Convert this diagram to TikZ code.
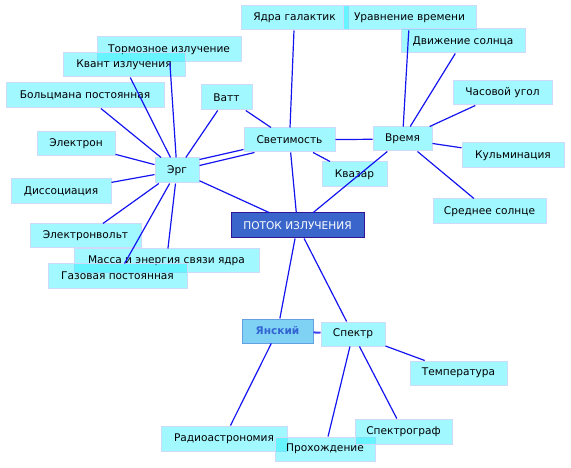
\documentclass[tikz,border=0pt]{standalone}
\usepackage{fontspec}
\setmainfont{DejaVu Sans}
\definecolor{boxfill}{RGB}{0,236,255}
\definecolor{boxline}{RGB}{205,218,250}
\definecolor{edgeblue}{RGB}{20,20,240}
\definecolor{potokfill}{RGB}{58,102,204}
\definecolor{potokline}{RGB}{50,20,150}
\definecolor{janfill}{RGB}{128,210,245}
\definecolor{janline}{RGB}{100,160,225}
\definecolor{jantext}{RGB}{50,100,210}
\definecolor{janedge}{RGB}{60,60,240}
\tikzset{
  box/.style={draw=boxline, line width=1pt, fill=boxfill, fill opacity=0.37, text opacity=1,
    inner sep=0pt, minimum height=24pt, font=\fontsize{10.6}{12}\selectfont, text=black},
  potokbox/.style={draw=potokline, line width=1pt, fill=potokfill, inner sep=0pt,
    minimum height=25pt, font=\fontsize{10.6}{12}\selectfont, text=white},
  janbox/.style={draw=janline, line width=1pt, fill=janfill, inner sep=0pt,
    minimum height=24pt, font=\fontsize{10.6}{12}\selectfont\bfseries, text=jantext},
  link/.style={draw=edgeblue, line width=1.2pt},
}
\begin{document}
\begin{tikzpicture}[x=1pt,y=-1pt]
\useasboundingbox (0,0) rectangle (571,468);
% nodes
\node[box, minimum width=107pt] (yadra) at (294.5,18) {Ядра галактик};
\node[box, minimum width=133pt] (uravn) at (409.5,18) {Уравнение времени};
\node[box, minimum width=124pt] (dvizh) at (463,41) {Движение солнца};
\node[box, minimum width=99pt] (chas) at (502.5,93) {Часовой угол};
\node[box, minimum width=102pt, minimum height=25pt] (kulm) at (513,155.5) {Кульминация};
\node[box, minimum width=113pt, minimum height=25pt] (sredn) at (489.5,211.5) {Среднее солнце};
\node[box, minimum width=59pt] (vremya) at (402.5,139) {Время};
\node[box, minimum width=65pt, minimum height=25pt] (kvazar) at (354.5,174.5) {Квазар};
\node[box, minimum width=91pt] (svet) at (289.5,140) {Светимость};
\node[potokbox, minimum width=133pt] (potok) at (297.5,225.5) {ПОТОК ИЗЛУЧЕНИЯ};
\node[box, minimum width=144pt, minimum height=25pt] (tormoz) at (169,49.5) {Тормозное излучение};
\node[box, minimum width=122pt] (kvant) at (124,65) {Квант излучения};
\node[box, minimum width=158pt, minimum height=25pt] (bolc) at (85,95.5) {Больцмана постоянная};
\node[box, minimum width=51pt, minimum height=25pt] (vatt) at (226.5,97.5) {Ватт};
\node[box, minimum width=78pt] (elektron) at (76,144) {Электрон};
\node[box, minimum width=44pt, minimum height=25pt] (erg) at (177,170.5) {Эрг};
\node[box, minimum width=100pt, minimum height=25pt] (dissoc) at (61,191.5) {Диссоциация};
\node[box, minimum width=111pt] (ev) at (85.5,236) {Электронвольт};
\node[box, minimum width=185pt] (massa) at (166.5,261) {Масса и энергия связи ядра};
\node[box, minimum width=139pt] (gaz) at (117.5,276) {Газовая постоянная};
\node[janbox, minimum width=71pt] (jan) at (277.5,331) {Янский};
\node[box, minimum width=64pt] (spektr) at (353,334) {Спектр};
\node[box, minimum width=97pt] (temp) at (458.5,373) {Температура};
\node[box, minimum width=126pt, minimum height=25pt] (radio) at (224,438.5) {Радиоастрономия};
\node[box, minimum width=100pt] (prohozh) at (325,449) {Прохождение};
\node[box, minimum width=97pt, minimum height=25pt] (spgraf) at (403.5,431.5) {Спектрограф};
% edges
\draw[link] (erg) -- (tormoz);
\draw[link] (erg) -- (kvant);
\draw[link] (erg) -- (bolc);
\draw[link] (erg) -- (vatt);
\draw[link] (erg) -- (elektron);
\draw[link] (erg) -- (dissoc);
\draw[link] (erg) -- (ev);
\draw[link] (erg) -- (massa);
\draw[link] (erg) -- (gaz);
\draw[link] (erg) -- (potok);
\draw[link] ([yshift=-2pt]erg.north east) -- ([yshift=3pt]svet.south west);
\draw[link] ([yshift=-8pt]erg.north east) -- ([xshift=11pt]svet.south west);
\draw[link] (vatt) -- (svet);
\draw[link] (yadra) -- (svet);
\draw[link] (kvazar) -- (svet);
\draw[link] (svet) -- (vremya);
\draw[link] (svet) -- (potok);
\draw[link] (vremya) -- (uravn);
\draw[link] (vremya) -- (dvizh);
\draw[link] (vremya) -- (chas);
\draw[link] (vremya) -- (kulm);
\draw[link] (vremya) -- (sredn);
\draw[link] (vremya) -- (potok);
\draw[link] (potok) -- (jan);
\draw[link] (potok) -- (spektr);
\draw[link] (jan) -- (radio);
\draw[link, line width=2pt, draw=janedge] (jan) -- (spektr);
\draw[link] (spektr) -- (temp);
\draw[link] (spektr) -- (prohozh);
\draw[link] (spektr) -- (spgraf);
\end{tikzpicture}
\end{document}
